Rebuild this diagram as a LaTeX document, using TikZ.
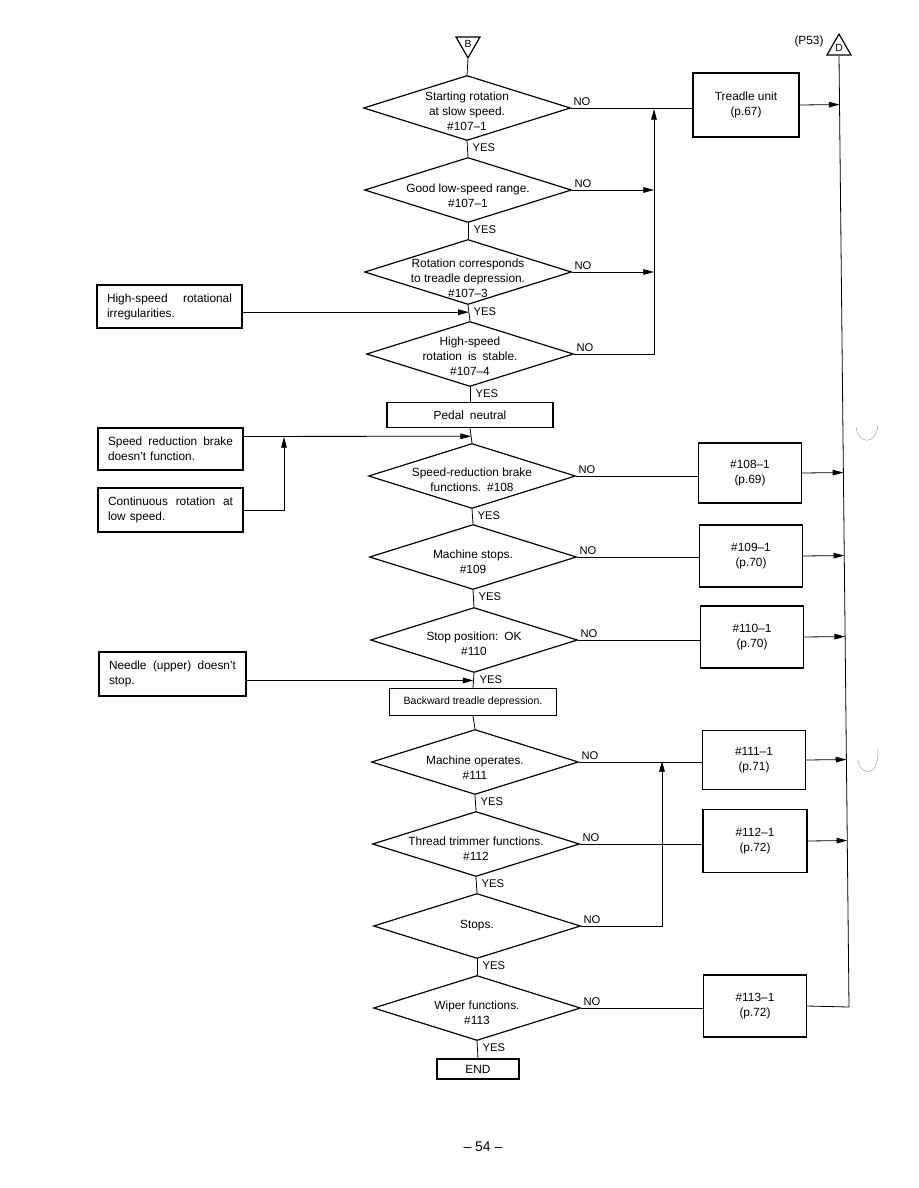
\documentclass[tikz,border=0pt]{standalone}
\usepackage{fontspec}
\setmainfont{Liberation Sans}
\usetikzlibrary{shapes.geometric,arrows.meta,calc}
\begin{document}
\begin{tikzpicture}[x=0.75pt,y=-0.75pt,
  every node/.style={font=\fontsize{8.9}{10.8}\selectfont},
  dia/.style={diamond, draw, line width=0.9pt, minimum width=155.25pt, minimum height=48.75pt, inner sep=0pt},
  dtext/.style={align=center, inner sep=0pt, font=\fontsize{8.9}{11.2}\selectfont},
  box/.style n args={2}{draw, rectangle, line width=1pt, minimum width=#1*0.75pt, minimum height=#2*0.75pt, align=center, inner sep=0pt},
  lbox/.style n args={2}{draw, rectangle, line width=1pt, minimum width=#1*0.75pt, minimum height=#2*0.75pt, text width=#1*0.75pt-15pt, align=left, inner sep=0pt, font=\fontsize{8.9}{11.2}\selectfont},
  conn/.style={line width=0.6pt},
  arr/.style={conn, -{Triangle[length=8pt,width=4.2pt]}},
  yes/.style={anchor=north west, inner sep=1.5pt, xshift=2.5pt, font=\fontsize{8.4}{10}\selectfont},
  no/.style={anchor=south west, inner sep=1.5pt, font=\fontsize{8.4}{10}\selectfont},
  conB/.style={regular polygon, regular polygon sides=3, draw, line width=0.9pt, minimum size=20.8pt, inner sep=0pt, font=\fontsize{7.8}{9}\selectfont}
]
\useasboundingbox (0,0) rectangle (918,1188);

% connectors (off-page)
\node[conB, shape border rotate=180] (B) at (468,44) {B};
\node[conB] (D) at (839,48) {\raisebox{-2pt}{D}};
\node (p53) at (809,41) {(P53)};

% main column
\node[dia, label={[dtext,yshift=-2.2pt]center:{Starting rotation\\at slow speed.\\\#107–1}}] (d1) at (467,108) {};
\node[dia, label={[dtext,yshift=-4pt]center:{Good low-speed range.\\\#107–1}}] (d2) at (468,190) {};
\node[dia, label={[dtext,yshift=-4.5pt]center:{Rotation corresponds\\to treadle depression.\\\#107–3}}] (d3) at (468,272) {};
\node[dia, label={[dtext,yshift=-1.5pt]center:{High-speed\\rotation\enspace is\enspace stable.\\\#107–4}}] (d4) at (470,354) {};
\node[box={166}{25}] (pedal) at (470,415) {Pedal\enspace neutral};
\node[dia, label={[dtext,yshift=-3pt]center:{Speed-reduction brake\\functions.\enspace\#108}}] (d5) at (472,476) {};
\node[dia, label={[dtext,yshift=-3.5pt]center:{Machine stops.\\\#109}}] (d6) at (473,557) {};
\node[dia, label={[dtext,yshift=-3pt]center:{Stop position:\enspace OK\\\#110}}] (d7) at (474,640) {};
\node[box={167}{27}, font=\fontsize{7.9}{9.5}\selectfont] (back) at (473,702) {Backward treadle depression.};
\node[dia, label={[dtext,yshift=-4pt]center:{Machine operates.\\\#111}}] (d8) at (475,762) {};
\node[dia, label={[dtext,yshift=-3.5pt]center:{Thread trimmer functions.\\\#112}}] (d9) at (476,844) {};
\node[dia, label={[dtext]center:{Stops.}}] (d10) at (477,926) {};
\node[dia, label={[dtext,yshift=-3.5pt]center:{Wiper functions.\\\#113}}] (d11) at (477,1008) {};
\node[box={82}{20}] (endb) at (478,1069) {END};

% right boxes
\node[box={106}{64}] (tread) at (746,105) {Treadle unit\\(p.67)};
\node[box={103}{60}] (b108) at (750,473) {\#108–1\\(p.69)};
\node[box={103}{62}] (b109) at (751,556) {\#109–1\\(p.70)};
\node[box={103}{62}] (b110) at (752,637) {\#110–1\\(p.70)};
\node[box={103}{59}] (b111) at (754,760) {\#111–1\\(p.71)};
\node[box={104}{63}] (b112) at (755,841) {\#112–1\\(p.72)};
\node[box={103}{62}] (b113) at (755,1006) {\#113–1\\(p.72)};

% left boxes
\node[lbox={145}{43}] (l1) at (169.5,306.5) {High-speed\hfill rotational\\irregularities.};
\node[lbox={145}{42}] (l2) at (170.5,449) {Speed\hfill reduction\hfill brake\\doesn't function.};
\node[lbox={145}{44}] (l3) at (170.5,510) {Continuous\hfill rotation\hfill at\\low speed.};
\node[lbox={147}{44}] (l4) at (172.5,674) {Needle\hfill (upper)\hfill doesn't\\stop.};

% page number
\node[font=\fontsize{10.5}{12}\selectfont] (pg) at (483,1147) {– 54 –};

% helper coordinates
\coordinate (c1) at (654,109);
\coordinate (c2) at (662,761);
\coordinate (Dbot) at (849,1007);
\coordinate (k) at (284,437);
\path (pedal.south) -- coordinate[pos=0.55] (m5) (d5.north);
\path (d3.south) -- coordinate[pos=0.45] (m3) (d4.north);
\path (d7.south) -- coordinate[pos=0.5] (m7) (back.north);

% main flow
\draw[conn] (B.south) -- (d1.north);
\draw[conn] (d1.south) -- node[at start, yes]{YES} (d2.north);
\draw[conn] (d2.south) -- node[at start, yes]{YES} (d3.north);
\draw[conn] (d3.south) -- node[at start, yes]{YES} (d4.north);
\draw[conn] (d4.south) -- node[at start, yes]{YES} (pedal.north);
\draw[conn] (pedal.south) -- (d5.north);
\draw[conn] (d5.south) -- node[at start, yes]{YES} (d6.north);
\draw[conn] (d6.south) -- node[at start, yes]{YES} (d7.north);
\draw[conn] (d7.south) -- node[at start, yes]{YES} (back.north);
\draw[conn] (back.south) -- (d8.north);
\draw[conn] (d8.south) -- node[at start, yes]{YES} (d9.north);
\draw[conn] (d9.south) -- node[at start, yes]{YES} (d10.north);
\draw[conn] (d10.south) -- node[at start, yes]{YES} (d11.north);
\draw[conn] (d11.south) -- node[at start, yes]{YES} (endb.north);

% NO branches, upper group
\draw[conn] (d1.east) -- node[at start, no]{NO} (d1.east -| tread.west);
\draw[arr] (d2.east) -- node[at start, no]{NO} (d2.east -| c1);
\draw[arr] (d3.east) -- node[at start, no]{NO} (d3.east -| c1);
\draw[arr] (d4.east) -- node[at start, no]{NO} (d4.east -| c1) -- (c1);

% NO branches to right boxes
\draw[conn] (d5.east) -- node[at start, no]{NO} (d5.east -| b108.west);
\draw[conn] (d6.east) -- node[at start, no]{NO} (d6.east -| b109.west);
\draw[conn] (d7.east) -- node[at start, no]{NO} (d7.east -| b110.west);
\draw[conn] (d8.east) -- node[at start, no]{NO} (d8.east -| b111.west);
\draw[conn] (d9.east) -- node[at start, no]{NO} (d9.east -| b112.west);
\draw[arr] (d10.east) -- node[at start, no]{NO} (d10.east -| c2) -- (c2);
\draw[conn] (d11.east) -- node[at start, no]{NO} (d11.east -| b113.west);

% return line to D
\draw[conn] (D.south) -- (Dbot);
\draw[arr] (tread.east) -- ($(D.south)!(tread.east)!(Dbot)$);
\draw[arr] (b108.east) -- ($(D.south)!(b108.east)!(Dbot)$);
\draw[arr] (b109.east) -- ($(D.south)!(b109.east)!(Dbot)$);
\draw[arr] (b110.east) -- ($(D.south)!(b110.east)!(Dbot)$);
\draw[arr] (b111.east) -- ($(D.south)!(b111.east)!(Dbot)$);
\draw[arr] (b112.east) -- ($(D.south)!(b112.east)!(Dbot)$);
\draw[conn] (b113.east) -- (Dbot);

% left entries
\draw[arr] (l1.east |- m3) -- (m3);
\draw[arr] ($(l2.north east)!0.21!(l2.south east)$) -- (m5);
\draw[arr] (l3.east) -| (k);
\draw[arr] (l4.east |- m7) -- (m7);

% binder-hole marks
\draw[gray!70, line width=0.4pt] (856,427) .. controls (858,444) and (876,446) .. (878,425);
\draw[gray!70, line width=0.4pt] (858,760) .. controls (860,776) and (879,778) .. (878,750);
\end{tikzpicture}
\end{document}
